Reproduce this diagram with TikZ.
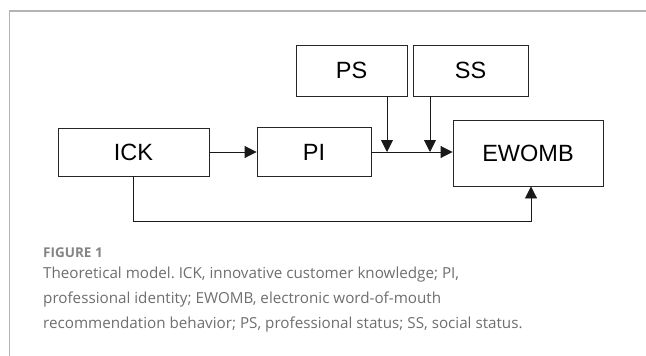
\documentclass[tikz,border=0pt]{standalone}
\usepackage{fontspec}
\setmainfont{Liberation Sans}
\newfontfamily\capfont{Open Sans}
\usetikzlibrary{arrows.meta, positioning}
\definecolor{framegray}{HTML}{B4B4B4}
\definecolor{capgray}{HTML}{6E6E6E}
\frenchspacing
\tikzset{every node/.style={font=\fontsize{23.5}{28}\selectfont}}
\tikzset{
  box/.style={draw=black!85, line width=0.9pt, inner sep=0pt},
  link/.style={draw=black!90, line width=0.9pt, -{Triangle[length=12pt, width=12pt]}},
  capfig/.style={font=\capfont\fontsize{13.5}{16}\selectfont\bfseries, text=capgray!85, inner sep=0pt},
  captext/.style={font=\capfont\fontsize{15.2}{18}\selectfont, text=capgray, inner sep=0pt}
}

\begin{document}
\begin{tikzpicture}[x=1pt, y=-1pt]
        \useasboundingbox (0,0) rectangle (646,356);
        \draw[framegray, line width=1.4pt] (9.5,356) -- (9.5,11) -- (646,11);
        \node[box, minimum width=151pt, minimum height=48pt] (ick) at (133.5,152) {ICK};
        \node[box, minimum width=114pt, minimum height=49pt] (pi) at (314,152) {PI};
        \node[box, minimum width=111pt, minimum height=51pt] (ps) at (351.5,70.5) {PS};
        \node[box, minimum width=115pt, minimum height=51pt] (ss) at (470.5,70.5) {SS};
        \node[box, minimum width=150pt, minimum height=66pt] (ewomb) at (528,153) {EWOMB};
        \coordinate (psin) at (387,152);
        \coordinate (ssin) at (430,152);
        \coordinate (back) at (531,221);
        \draw[link] (ick.east) -- (pi.west);
        \draw[link] (pi.east) -- (pi.east -| ewomb.west);
        \draw[link] (ps.south -| psin) -- (psin);
        \draw[link] (ss.south -| ssin) -- (ssin);
        \draw[link] (ick.south) |- (back) -- (ewomb.south -| back);
        \node[capfig, anchor=base west] (fig) at (43,257) {FIGURE 1};
        \node[captext, anchor=base west] (cap1) at (43,278) {Theoretical model. ICK, innovative customer knowledge; PI,};
        \node[captext, anchor=base west] (cap2) at (43,303) {professional identity; EWOMB, electronic word-of-mouth};
        \node[captext, anchor=base west] (cap3) at (43,328) {recommendation behavior; PS, professional status; SS, social status.};
      \end{tikzpicture}
\end{document}
